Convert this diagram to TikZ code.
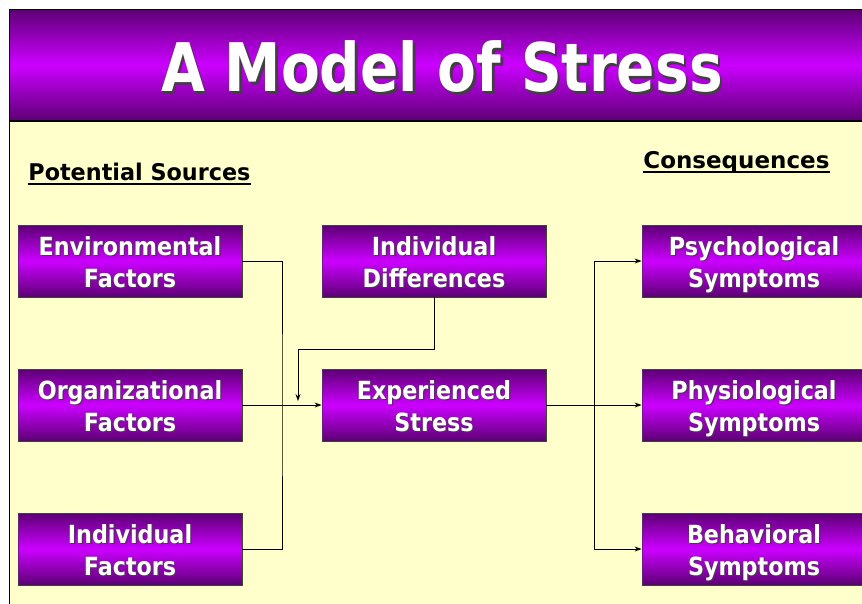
\documentclass[tikz,border=0pt]{standalone}
\usepackage{fontspec}
\setmainfont{DejaVu Sans}
\usetikzlibrary{positioning,arrows.meta}
\definecolor{paper}{HTML}{FFFFCC}
\definecolor{violet}{HTML}{CC00FF}
\definecolor{plum}{HTML}{5C0074}
\definecolor{shade}{HTML}{404040}
% white text with a dark drop shadow
\newcommand\shtxt[2][1.5pt]{\leavevmode\rlap{\hspace{#1}\raisebox{-#1}{\color{shade}#2}}{\color{white}#2}}
\newcommand\boxlab[2]{\raisebox{-4pt}[\height][\depth]{\scalebox{0.89}[1]{\begin{tabular}{@{}c@{}}\shtxt{#1}\\\shtxt{#2}\end{tabular}}}}
\tikzset{
  stressbox/.style={draw=shade, line width=0.8pt, minimum width=224pt, minimum height=72pt,
    inner sep=0pt, top color=plum, bottom color=plum, middle color=violet,
    font=\bfseries\fontsize{25}{32}\selectfont},
  heading/.style={anchor=base west, inner sep=0pt, font=\bfseries\fontsize{23}{26}\selectfont},
  >={Stealth[length=7pt,width=5pt]}
}
\begin{document}
\begin{tikzpicture}[x=1pt, y=-1pt, line width=0.8pt]
    \useasboundingbox (0,0) rectangle (862,603);
    \fill[paper] (9,121) rectangle (870,610);
    \shade[top color=plum, bottom color=plum, middle color=violet] (9,9) rectangle (870,121);
    \draw[line width=1pt] (870,9) -- (9,9) -- (9,610);
    \draw[line width=1.2pt] (9,121) -- (870,121);
    \node (title) at (442,68) {\scalebox{0.845}[1]{\bfseries\fontsize{67}{70}\selectfont\shtxt[3pt]{A Model of Stress}}};
    \node[heading] (sources) at (28,180) {\scalebox{0.97}[1]{Potential Sources}};
    \node[heading] (conseq) at (643,168) {\scalebox{1.0}[1]{Consequences}};
    \draw[line width=2pt] ([yshift=-4pt]sources.base west) -- ([yshift=-4pt]sources.base east);
    \draw[line width=2pt] ([yshift=-4pt]conseq.base west) -- ([yshift=-4pt]conseq.base east);
    \node[stressbox] (env) at (130,261) {\boxlab{Environmental}{Factors}};
    \node[stressbox] (org) at (130,405) {\boxlab{Organizational}{Factors}};
    \node[stressbox] (ind) at (130,549) {\boxlab{Individual}{Factors}};
    \node[stressbox] (dif) at (434,261) {\boxlab{Individual}{Differences}};
    \node[stressbox] (exp) at (434,405) {\boxlab{Experienced}{Stress}};
    \node[stressbox] (psy) at (754,261) {\boxlab{Psychological}{Symptoms}};
    \node[stressbox] (phy) at (754,405) {\boxlab{Physiological}{Symptoms}};
    \node[stressbox] (beh) at (754,549) {\boxlab{Behavioral}{Symptoms}};
    \coordinate (lj) at (282,405);
    \coordinate (dk) at (298,349);
    \coordinate (dtip) at (298,401);
    \coordinate (rj) at (594,405);
    \draw (env.east) -| (lj) |- (ind.east);
    \draw [->] (org.east) -- (exp.west);
    \draw [->] (dif.south) |- (dk) -- (dtip);
    \draw [->] (exp.east) -- (phy.west);
    \draw [->] (rj) |- (psy.west);
    \draw [->] (rj) |- (beh.west);
\end{tikzpicture}
\end{document}
